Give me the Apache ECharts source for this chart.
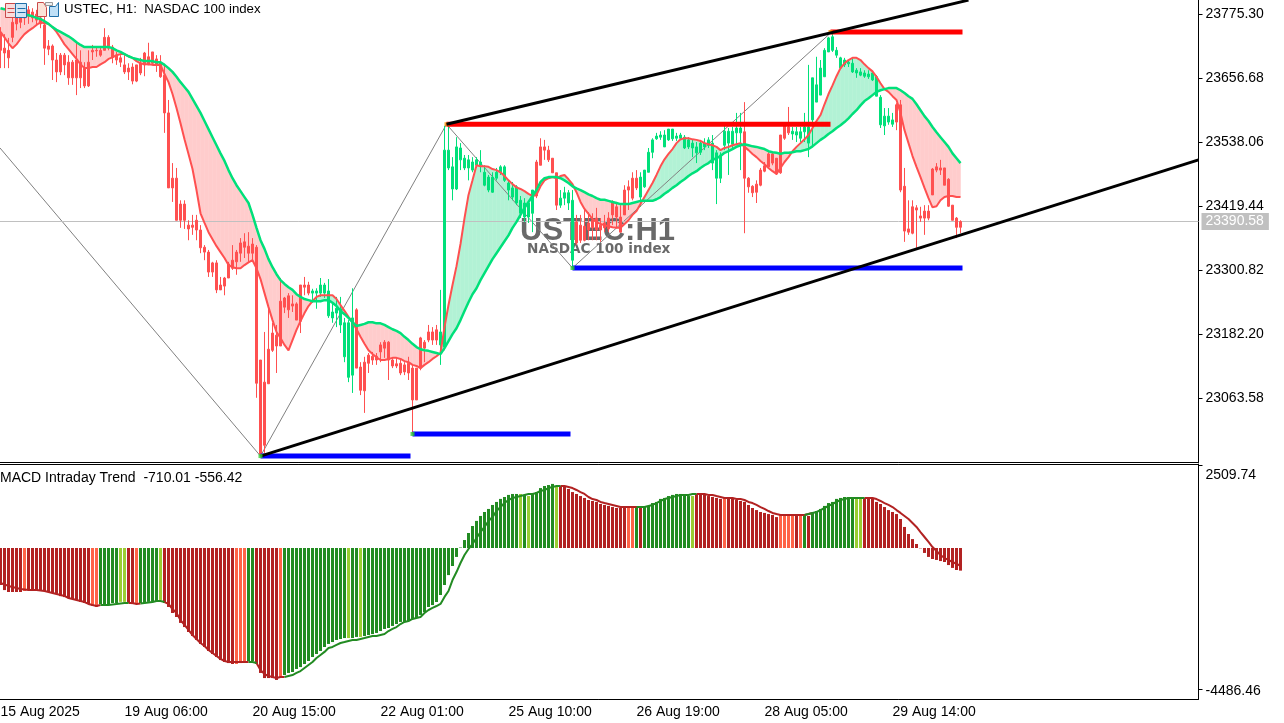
<!DOCTYPE html>
<html><head><meta charset="utf-8">
<style>html,body{margin:0;padding:0;background:#fff}#c{width:1284px;height:723px}</style>
<script src="https://cdn.jsdelivr.net/npm/echarts@6/dist/echarts.min.js"></script>
</head><body><div id="c"></div>
<script>
// Candles: [bodyTop, bodyBottom, low, high]
const candles = [
[23740,23708,23675,23751],[23712,23703,23675,23738],[23708,23694,23675,23731],[23760,23732,23723,23773],[23768,23757,23745,23779],[23775,23760,23749,23783],[23779,23768,23755,23786],[23783,23771,23757,23790],[23779,23768,23760,23786],[23775,23764,23753,23783],
[23768,23757,23749,23775],[23755,23712,23681,23770],[23716,23710,23699,23727],[23716,23690,23653,23719],[23690,23668,23649,23703],[23699,23668,23662,23703],[23699,23681,23662,23703],[23686,23657,23644,23699],[23686,23657,23644,23690],[23690,23657,23625,23723],
[23686,23657,23638,23708],[23675,23642,23638,23686],[23686,23642,23640,23708],[23708,23705,23690,23718],[23708,23707,23696,23714],[23708,23699,23696,23716],[23732,23708,23708,23749],[23732,23712,23708,23736],[23714,23695,23684,23718],[23699,23690,23681,23705],
[23694,23686,23677,23699],[23681,23668,23664,23699],[23675,23668,23653,23684],[23677,23651,23645,23684],[23681,23651,23649,23681],[23684,23666,23662,23694],[23703,23681,23660,23705],[23696,23681,23681,23722],[23705,23684,23681,23705],[23692,23681,23668,23699],
[23686,23659,23657,23699],[23662,23592,23555,23683],[23592,23453,23453,23616],[23471,23453,23427,23499],[23471,23393,23393,23490],[23423,23393,23379,23430],[23423,23393,23377,23430],[23384,23377,23356,23393],[23384,23380,23366,23403],[23393,23375,23356,23403],
[23375,23342,23332,23384],[23343,23334,23319,23347],[23334,23297,23288,23338],[23314,23297,23288,23316],[23314,23264,23258,23319],[23273,23264,23264,23288],[23286,23271,23254,23288],[23312,23286,23286,23316],[23319,23304,23301,23347],[23334,23316,23292,23338],
[23351,23332,23316,23360],[23353,23343,23323,23369],[23345,23332,23316,23371],[23349,23332,23319,23360],[23343,23091,23064,23347],[23134,22960,22956,23134],[23093,22976,22962,23186],[23154,23090,23090,23234],[23184,23152,23149,23203],[23180,23160,23110,23199],
[23243,23160,23160,23286],[23249,23232,23221,23251],[23253,23227,23212,23258],[23238,23234,23223,23254],[23238,23208,23208,23241],[23273,23206,23184,23273],[23273,23269,23254,23288],[23273,23258,23254,23279],[23262,23258,23240,23266],[23262,23258,23229,23267],
[23273,23258,23251,23286],[23273,23258,23249,23277],[23262,23216,23212,23284],[23223,23212,23203,23240],[23230,23221,23195,23251],[23229,23199,23184,23251],[23203,23140,23130,23212],[23203,23102,23093,23208],[23212,23106,23073,23267],[23227,23119,23119,23230],
[23121,23078,23069,23130],[23130,23077,23036,23140],[23143,23128,23110,23147],[23141,23134,23125,23149],[23141,23134,23125,23147],[23162,23149,23130,23167],[23167,23156,23138,23171],[23167,23134,23097,23169],[23134,23123,23119,23138],[23127,23123,23119,23138],
[23128,23110,23106,23134],[23125,23112,23106,23130],[23128,23110,23097,23140],[23119,23060,22997,23125],[23119,23060,23060,23119],[23175,23119,23115,23177],[23167,23156,23130,23171],[23186,23171,23167,23199],[23186,23171,23162,23195],[23190,23171,23162,23199],
[23186,23162,23125,23264],[23523,23158,23152,23568],[23523,23490,23486,23571],[23492,23451,23430,23510],[23529,23451,23449,23547],[23527,23505,23486,23536],[23508,23490,23486,23514],[23505,23490,23467,23514],[23501,23486,23482,23510],[23505,23495,23490,23510],
[23501,23495,23482,23523],[23482,23458,23456,23495],[23473,23449,23445,23477],[23473,23445,23444,23482],[23482,23471,23467,23490],[23492,23482,23477,23495],[23492,23467,23464,23495],[23462,23449,23430,23467],[23453,23436,23430,23464],[23455,23425,23421,23458],
[23430,23406,23397,23438],[23425,23399,23390,23434],[23425,23399,23388,23427],[23449,23406,23371,23449],[23501,23438,23434,23505],[23529,23495,23495,23545],[23529,23523,23505,23542],[23523,23505,23501,23531],[23508,23481,23481,23508],[23481,23421,23412,23481],
[23434,23421,23416,23449],[23444,23434,23421,23455],[23444,23425,23412,23449],[23430,23319,23304,23449],[23390,23351,23347,23403],[23384,23356,23351,23403],[23382,23356,23354,23412],[23388,23375,23356,23408],[23393,23379,23356,23406],[23397,23375,23356,23416],
[23384,23375,23353,23397],[23388,23379,23371,23403],[23397,23377,23371,23408],[23425,23403,23384,23430],[23418,23399,23379,23427],[23399,23371,23371,23421],[23449,23403,23403,23458],[23455,23449,23412,23467],[23471,23434,23430,23482],[23471,23453,23449,23486],
[23473,23436,23418,23482],[23486,23455,23453,23486],[23519,23482,23482,23527],[23542,23519,23508,23545],[23549,23544,23542,23555],[23551,23547,23542,23558],[23551,23529,23529,23560],[23562,23542,23540,23562],[23562,23544,23540,23562],[23549,23545,23540,23555],
[23551,23545,23542,23555],[23547,23527,23525,23551],[23542,23529,23525,23547],[23536,23527,23510,23542],[23529,23518,23499,23538],[23536,23519,23514,23542],[23536,23529,23523,23545],[23542,23532,23527,23547],[23536,23499,23486,23551],[23518,23471,23423,23523],
[23514,23471,23462,23519],[23558,23532,23523,23569],[23558,23536,23477,23564],[23558,23534,23527,23566],[23564,23555,23532,23592],[23564,23555,23486,23592],[23557,23471,23369,23612],[23471,23455,23444,23473],[23456,23444,23436,23458],[23460,23445,23425,23467],
[23486,23458,23456,23490],[23494,23484,23482,23501],[23516,23492,23490,23519],[23516,23499,23495,23519],[23508,23479,23477,23508],[23551,23481,23479,23551],[23568,23545,23542,23570],[23566,23555,23551,23603],[23558,23553,23542,23566],[23557,23551,23538,23566],
[23557,23545,23538,23566],[23566,23557,23538,23592],[23566,23536,23510,23681],[23657,23579,23529,23657],[23644,23612,23612,23696],[23675,23625,23625,23690],[23708,23659,23659,23712],[23731,23705,23705,23733],[23733,23708,23705,23740],[23708,23699,23694,23714],
[23694,23675,23675,23696],[23690,23681,23677,23694],[23686,23683,23677,23690],[23684,23668,23666,23694],[23671,23666,23657,23675],[23668,23662,23660,23675],[23666,23660,23657,23671],[23664,23659,23655,23671],[23666,23653,23651,23670],[23659,23623,23623,23662],
[23621,23570,23564,23625],[23586,23568,23551,23601],[23586,23575,23570,23601],[23579,23571,23566,23592],[23607,23575,23560,23610],[23607,23449,23445,23616],[23456,23373,23353,23490],[23377,23371,23366,23430],[23418,23369,23367,23430],[23416,23412,23342,23421],
[23401,23397,23390,23418],[23410,23397,23366,23421],[23410,23397,23393,23421],[23488,23440,23440,23490],[23492,23486,23482,23499],[23490,23486,23477,23505],[23490,23458,23458,23490],[23469,23419,23418,23471],[23421,23393,23393,23421],[23397,23380,23360,23399],
[23390.58,23380,23369,23393]];

const slowMA = [
23786,23784,23783,23781,23779,23777,23775,23773,23771,23768,
23766,23762,23757,23751,23746,23742,23738,23734,23729,23723,
23718,23714,23714,23714,23714,23714,23714,23714,23712,23708,
23705,23701,23697,23694,23692,23690,23688,23688,23688,23686,
23686,23681,23675,23668,23659,23649,23640,23631,23618,23605,
23592,23577,23562,23547,23532,23517,23503,23486,23471,23458,
23447,23436,23425,23403,23379,23356,23340,23321,23306,23293,
23282,23275,23269,23264,23256,23251,23247,23245,23243,23243,
23243,23245,23245,23240,23234,23225,23219,23212,23204,23197,
23199,23201,23204,23204,23202,23202,23199,23195,23191,23188,
23184,23177,23171,23164,23158,23154,23152,23151,23149,23147,
23145,23156,23169,23182,23193,23208,23225,23241,23256,23267,
23282,23295,23308,23321,23332,23343,23354,23365,23379,23390,
23403,23416,23427,23438,23449,23464,23471,23473,23473,23473,
23471,23467,23462,23456,23452,23449,23445,23441,23438,23434,
23431,23431,23429,23427,23425,23423,23423,23423,23425,23427,
23429,23429,23429,23429,23432,23436,23442,23447,23453,23458,
23464,23469,23475,23480,23484,23490,23495,23499,23505,23508,
23512,23518,23521,23525,23529,23532,23534,23532,23530,23529,
23527,23525,23521,23519,23518,23516,23518,23518,23519,23521,
23521,23523,23525,23530,23536,23542,23547,23553,23558,23564,
23569,23575,23582,23590,23597,23606,23614,23619,23625,23631,
23634,23636,23638,23638,23638,23634,23629,23623,23618,23608,
23597,23586,23577,23566,23556,23547,23538,23529,23517,23508,23499];

const fastMA = [
23742,23732,23721,23712,23719,23729,23738,23744,23749,23755,
23760,23758,23757,23751,23742,23731,23719,23710,23701,23692,
23682,23675,23675,23677,23677,23682,23686,23692,23695,23699,
23701,23701,23697,23694,23688,23684,23682,23682,23681,23681,
23681,23664,23649,23627,23601,23573,23543,23516,23488,23449,
23406,23388,23371,23358,23345,23334,23323,23310,23306,23304,
23304,23310,23315,23319,23304,23284,23258,23232,23208,23186,
23175,23162,23152,23171,23190,23206,23221,23234,23243,23251,
23254,23254,23254,23254,23247,23236,23225,23214,23204,23191,
23177,23164,23152,23145,23139,23134,23134,23136,23138,23138,
23136,23132,23130,23125,23123,23119,23125,23130,23136,23141,
23147,23195,23236,23273,23308,23349,23397,23440,23467,23495,
23493,23493,23492,23488,23486,23482,23475,23467,23460,23454,
23451,23447,23442,23438,23440,23456,23467,23471,23473,23471,
23475,23477,23469,23460,23445,23427,23414,23405,23395,23390,
23386,23384,23382,23380,23379,23379,23386,23393,23403,23410,
23423,23436,23449,23462,23477,23493,23506,23516,23525,23536,
23543,23545,23545,23543,23542,23540,23536,23534,23532,23529,
23523,23527,23529,23532,23534,23536,23529,23523,23516,23510,
23503,23497,23490,23484,23479,23490,23501,23510,23521,23529,
23536,23543,23551,23564,23577,23588,23608,23627,23643,23660,
23675,23684,23690,23694,23694,23690,23682,23675,23669,23659,
23647,23636,23631,23623,23616,23592,23560,23536,23512,23492,
23473,23453,23434,23417,23419,23430,23436,23438,23438,23436,23436];

const macdValues = [
-1160,-1320,-1380,-1380,-1380,-1380,-1350,-1320,-1320,-1320,
-1320,-1350,-1380,-1410,-1440,-1510,-1540,-1570,-1600,-1630,
-1690,-1725,-1760,-1820,-1850,-1760,-1760,-1760,-1725,-1725,
-1690,-1690,-1725,-1760,-1760,-1725,-1725,-1690,-1690,-1660,
-1630,-1725,-1850,-2040,-2165,-2350,-2480,-2635,-2760,-2885,
-3010,-3105,-3230,-3325,-3420,-3515,-3575,-3610,-3640,-3640,
-3610,-3575,-3545,-3545,-3640,-3920,-4080,-4080,-4080,-4140,
-4045,-3985,-3920,-3890,-3795,-3735,-3640,-3545,-3420,-3325,
-3230,-3105,-3010,-2950,-2885,-2855,-2825,-2825,-2825,-2790,
-2790,-2760,-2730,-2700,-2665,-2605,-2540,-2510,-2445,-2385,
-2320,-2320,-2290,-2225,-2195,-2100,-2010,-1850,-1790,-1695,
-1475,-1160,-850,-565,-280,15,250,470,690,850,
1005,1130,1225,1350,1445,1540,1600,1665,1695,1695,
1695,1665,1630,1695,1755,1880,1945,1975,2010,1915,
1945,1915,1850,1755,1695,1630,1570,1505,1475,1445,
1380,1350,1320,1285,1255,1255,1255,1255,1255,1255,
1255,1285,1320,1410,1445,1540,1570,1630,1665,1695,
1695,1665,1630,1630,1695,1665,1665,1630,1600,1570,
1540,1570,1570,1570,1505,1475,1445,1350,1255,1190,
1130,1100,1065,1035,970,1035,1035,1035,1035,1035,
1035,1035,1005,1100,1160,1225,1320,1410,1445,1540,
1570,1600,1600,1570,1570,1570,1570,1570,1540,1445,
1380,1285,1190,1130,1065,910,660,440,280,125,
-10,-155,-280,-345,-375,-410,-440,-535,-625,-690,-710.01];

const macdSignal = [
-1100,-1145,-1190,-1225,-1255,-1285,-1300,-1320,-1320,-1320,
-1335,-1350,-1380,-1410,-1445,-1475,-1505,-1570,-1600,-1630,
-1665,-1695,-1755,-1790,-1820,-1790,-1790,-1790,-1770,-1755,
-1740,-1725,-1725,-1725,-1755,-1740,-1725,-1710,-1695,-1665,
-1665,-1695,-1755,-1915,-2040,-2260,-2415,-2570,-2730,-2855,
-2980,-3075,-3200,-3295,-3390,-3480,-3545,-3575,-3575,-3575,
-3575,-3575,-3575,-3575,-3610,-3825,-3955,-4015,-4045,-4080,
-4045,-4045,-4015,-3985,-3920,-3860,-3765,-3670,-3575,-3450,
-3355,-3260,-3135,-3105,-3040,-2980,-2950,-2915,-2885,-2885,
-2855,-2825,-2790,-2760,-2760,-2730,-2700,-2605,-2540,-2480,
-2385,-2320,-2290,-2225,-2195,-2165,-2040,-1945,-1880,-1820,
-1755,-1535,-1350,-1005,-755,-470,-220,-30,125,315,
500,660,845,970,1160,1285,1410,1505,1570,1600,
1630,1665,1695,1695,1725,1790,1820,1880,1915,1945,
1945,1945,1915,1880,1820,1755,1695,1600,1535,1505,
1445,1410,1380,1350,1320,1285,1285,1285,1285,1285,
1285,1285,1320,1350,1410,1475,1535,1570,1600,1630,
1665,1665,1665,1695,1695,1695,1695,1665,1665,1630,
1600,1570,1570,1570,1535,1535,1505,1445,1410,1350,
1285,1225,1160,1100,1065,1035,1035,1035,1035,1035,
1035,1035,1065,1100,1130,1190,1255,1320,1380,1445,
1505,1535,1570,1570,1570,1570,1570,1570,1570,1535,
1475,1410,1350,1285,1190,1100,1005,910,785,660,
500,345,190,30,-95,-220,-315,-375,-440,-500,-556.42];

// Runs of [bar count, state]
const trendRuns = [[78,'dn'],[11,'up'],[21,'dn'],[24,'up'],[6,'dn'],[4,'up'],[16,'dn'],[26,'up'],[12,'dn'],[26,'up'],[17,'dn']];
const macdRuns = [[6,'r'],[1,'t'],[16,'r'],[2,'t'],[5,'g'],[2,'y'],[2,'r'],[1,'t'],[5,'g'],[1,'y'],[18,'r'],[3,'t'],[2,'g'],[6,'r'],[1,'t'],[16,'g'],[1,'y'],[2,'g'],[1,'y'],[39,'g'],[1,'y'],[1,'g'],[1,'y'],[6,'g'],[1,'y'],[17,'r'],[2,'t'],[1,'g'],[1,'r'],[12,'g'],[1,'y'],[7,'r'],[1,'t'],[13,'r'],[4,'t'],[1,'r'],[1,'t'],[1,'g'],[1,'r'],[11,'g'],[2,'y'],[25,'r']];

// Axis ticks
const priceTicks = [23775.30,23656.68,23538.06,23419.44,23300.82,23182.20,23063.58];
const macdTicks = [2509.74,-4486.46];
const timeTickIndex = [0,31,63,95,127,159,191,223];
const timeTickLabels = ['15 Aug 2025','19 Aug 06:00','20 Aug 15:00','22 Aug 01:00','25 Aug 10:00','26 Aug 19:00','28 Aug 05:00','29 Aug 14:00'];
const bidPrice = 23390.58;

// Chart objects as [bar index, price]
const zigzag = [[-0.125,23527],[65,22956],[111.5,23571],[143,23304.6],[207.5,23740]];
const channelLower = [[65,22956],[299.5,23505]];
const channelUpper = [[111.5,23571],[242,23801]];
const redLevels = [[[111.5,23571],[207.5,23571]],[[207.5,23742],[240.5,23742]]];
const blueLevels = [[[65,22956],[102.5,22956]],[[103,22997],[142.5,22997]],[[143,23304.6],[240.5,23304.6]]];
const swingLows = [[65,22956],[103,22997],[143,23304.6]];
const swingHighs = [[111.5,23571],[207.5,23742]];

const BARS = 300;
const RED='#ff5050', GREEN='#00e07a', PINK='#ffcccc', MINT='#b2f2d5';
const FONT='"Liberation Sans", Arial, sans-serif';
const expand = runs => runs.flatMap(([n,s]) => Array(n).fill(s));
const trend = expand(trendRuns), macdState = expand(macdRuns);

const macdColors = {r:'#b22222',t:'#ff6347',g:'#228b22',y:'#9acd32'};
const isUp = i => macdState[i]==='g'||macdState[i]==='y';
const categories = Array.from({length:BARS},(_,i)=>String(i));

const candleData = candles.map((c,i)=>{
  const col = trend[i]==='up'?GREEN:RED;
  return {value:c,itemStyle:{color:col,color0:col,borderColor:col,borderColor0:col,borderWidth:1}};
});
const fillData = fastMA.slice(0,-1).map((f,i)=>[i,f,slowMA[i],fastMA[i+1],slowMA[i+1]]);

function renderFill(params,api){
  const i=api.value(0),f0=api.value(1),s0=api.value(2),f1=api.value(3),s1=api.value(4);
  const P=(x,v)=>api.coord([x,v]);
  const poly=(pts,up)=>({type:'polygon',shape:{points:pts},style:{fill:up?MINT:PINK,stroke:up?MINT:PINK,lineWidth:0.5},silent:true});
  const d0=f0-s0,d1=f1-s1;
  if(d0*d1>=0){
    return poly([P(i,f0),P(i+1,f1),P(i+1,s1),P(i,s0)],(d0+d1)>=0);
  }
  const t=d0/(d0-d1),xm=i+t,vm=f0+(f1-f0)*t;
  return {type:'group',children:[
    poly([P(i,f0),P(xm,vm),P(i,s0)],d0>0),
    poly([P(xm,vm),P(i+1,f1),P(i+1,s1)],d1>0)
  ]};
}

const objLine=(data,color,width,z)=>({type:'line',xAxisIndex:1,yAxisIndex:0,data,symbol:'none',silent:true,z,
  lineStyle:{color,width,cap:'butt'},animation:false});

const option={
  animation:false,
  backgroundColor:'#fff',
  textStyle:{fontFamily:FONT},
  grid:[
    {left:-1.5,top:0,width:1200,height:462,containLabel:false,outerBoundsMode:'none'},
    {left:-1.5,top:464,width:1200,height:235,containLabel:false,outerBoundsMode:'none'}
  ],
  xAxis:[
    {type:'category',gridIndex:0,data:categories,boundaryGap:true,axisLine:{onZero:false,lineStyle:{color:'#000'}},axisTick:{show:false},axisLabel:{show:false},splitLine:{show:false}},
    {type:'value',gridIndex:0,min:-0.5,max:BARS-0.5,show:false,splitLine:{show:false}},
    {type:'category',gridIndex:1,data:categories,boundaryGap:true,position:'bottom',
      axisLine:{onZero:false,lineStyle:{color:'#000'}},
      axisTick:{alignWithLabel:true,length:4,lineStyle:{color:'#000'},interval:i=>i>0&&timeTickIndex.includes(i)},
      axisLabel:{color:'#000',fontFamily:FONT,fontSize:14,align:'left',margin:6,
        interval:i=>timeTickIndex.includes(i),
        formatter:(v,i)=>{const k=timeTickIndex.indexOf(+v);return k>=0?timeTickLabels[k]:'';}},
      splitLine:{show:false}},
    {type:'category',gridIndex:1,data:categories,position:'top',axisLine:{onZero:false,lineStyle:{color:'#000'}},axisTick:{show:false},axisLabel:{show:false},splitLine:{show:false}}
  ],
  yAxis:[
    {type:'value',gridIndex:0,position:'right',min:22945,max:23801.25,
      axisLine:{show:true,onZero:false,lineStyle:{color:'#000'}},
      axisTick:{show:true,length:4,lineStyle:{color:'#000'},customValues:priceTicks},
      axisLabel:{color:'#000',fontFamily:FONT,fontSize:14,margin:7,padding:[2,0,0,0],customValues:priceTicks,formatter:v=>v.toFixed(2)},
      splitLine:{show:false}},
    {type:'value',gridIndex:1,position:'right',min:-4737,max:2635,
      axisLine:{show:true,onZero:false,lineStyle:{color:'#000'}},
      axisTick:{show:true,length:4,lineStyle:{color:'#000'},customValues:[2610,-4440]},
      axisLabel:{color:'#000',fontFamily:FONT,fontSize:14,margin:7,customValues:macdTicks,
        formatter:v=>v>0?'{t|'+v.toFixed(2)+'}':v.toFixed(2),
        rich:{t:{padding:[15,0,0,0],fontFamily:FONT,fontSize:14,color:'#000'}}},
      splitLine:{show:false}}
  ],
  graphic:[
    {type:'text',z:2,left:520,top:216,silent:true,style:{text:'USTEC:H1',fill:'#696969',font:'bold 31px "Liberation Sans"'}},
    {type:'text',z:2,left:527,top:242,silent:true,style:{text:'NASDAC 100 index',fill:'#696969',font:'bold 13.6px "DejaVu Sans"'}},
    {type:'text',z:50,left:64,top:3,silent:true,style:{text:'USTEC, H1:  NASDAC 100 index',fill:'#000',font:'13.25px "Liberation Sans"'}},
    {type:'text',z:50,left:0,top:471,silent:true,style:{text:'MACD Intraday Trend  -710.01 -556.42',fill:'#000',font:'14px "Liberation Sans"'}},
    {type:'group',z:50,left:5,top:3,silent:true,children:[
      {type:'rect',z:50,shape:{x:0,y:0,width:10,height:14},style:{fill:'#f9dcdc',stroke:'#c94a4a',lineWidth:1}},
      {type:'rect',z:50,shape:{x:10,y:0,width:11,height:14},style:{fill:'#cfe6f7',stroke:'#1f6fa8',lineWidth:1}},
      {type:'line',z:50,shape:{x1:2,y1:5,x2:9,y2:5},style:{stroke:'#c94a4a',lineWidth:1}},
      {type:'line',z:50,shape:{x1:2,y1:9,x2:9,y2:9},style:{stroke:'#c94a4a',lineWidth:1}},
      {type:'line',z:50,shape:{x1:12,y1:5,x2:20,y2:5},style:{stroke:'#1f6fa8',lineWidth:1}},
      {type:'line',z:50,shape:{x1:12,y1:9,x2:20,y2:9},style:{stroke:'#1f6fa8',lineWidth:1}}
    ]},
    {type:'group',z:50,left:37,top:2,silent:true,children:[
      {type:'polygon',z:50,shape:{points:[[0,1],[6,1],[9,6],[9,15],[0,15]]},style:{fill:'#fbe3d8',stroke:'#c94a4a',lineWidth:1}},
      {type:'polygon',z:50,shape:{points:[[12,5],[18,5],[21,1],[21,15],[12,15]]},style:{fill:'#bfe0f7',stroke:'#1f6fa8',lineWidth:1}},
      {type:'rect',z:50,shape:{x:8,y:1,width:7,height:3},style:{fill:'#eee',stroke:'#999',lineWidth:1}}
    ]}
  ],
  series:[
    {type:'line',xAxisIndex:1,yAxisIndex:0,data:[],z:0,silent:true,
      markLine:{silent:true,symbol:'none',animation:false,data:[{yAxis:bidPrice}],lineStyle:{color:'#c0c0c0',width:1,type:'solid'},
        label:{position:'end',distance:3,formatter:()=>bidPrice.toFixed(2),color:'#fff',fontFamily:FONT,fontSize:14,backgroundColor:'#c0c0c0',padding:[2,5,1,4]}}},
    {type:'custom',coordinateSystem:'cartesian2d',xAxisIndex:0,yAxisIndex:0,data:fillData,renderItem:renderFill,z:1,silent:true,encode:{x:0,y:[1,2]},animation:false},
    objLine(zigzag,'#808080',1,3),
    {type:'candlestick',xAxisIndex:0,yAxisIndex:0,data:candleData,barWidth:3,z:5,silent:true,animation:false},
    {type:'line',xAxisIndex:0,yAxisIndex:0,data:fastMA,symbol:'none',silent:true,z:6,lineStyle:{color:RED,width:2}},
    {type:'line',xAxisIndex:0,yAxisIndex:0,data:slowMA,symbol:'none',silent:true,z:7,lineStyle:{color:GREEN,width:2.5}},
    ...redLevels.map(d=>objLine(d,'#ff0000',5,8)),
    ...blueLevels.map(d=>objLine(d,'#0000ff',5,8)),
    objLine(channelLower,'#000',3,9),
    objLine(channelUpper,'#000',3,9),
    {type:'scatter',xAxisIndex:1,yAxisIndex:0,data:swingLows,symbol:'rect',symbolSize:4,itemStyle:{color:'#33cc33'},silent:true,z:10},
    {type:'scatter',xAxisIndex:1,yAxisIndex:0,data:swingHighs,symbol:'rect',symbolSize:4,itemStyle:{color:'#ff8c00'},silent:true,z:8},
    {type:'bar',xAxisIndex:2,yAxisIndex:1,barWidth:3,silent:true,z:2,
      data:macdValues.map((v,i)=>({value:v,itemStyle:{color:macdColors[macdState[i]]}}))},
    {type:'line',xAxisIndex:2,yAxisIndex:1,symbol:'none',silent:true,z:3,connectNulls:false,lineStyle:{color:'#b22222',width:2},
      data:macdSignal.map((v,i)=>(!isUp(i)||(i>0&&!isUp(i-1)))?v:null)},
    {type:'line',xAxisIndex:2,yAxisIndex:1,symbol:'none',silent:true,z:4,connectNulls:false,lineStyle:{color:'#228b22',width:2},
      data:macdSignal.map((v,i)=>(isUp(i)||(i>0&&isUp(i-1)))?v:null)}
  ]
};
echarts.init(document.getElementById('c'),null,{renderer:'canvas'}).setOption(option);
</script></body></html>
